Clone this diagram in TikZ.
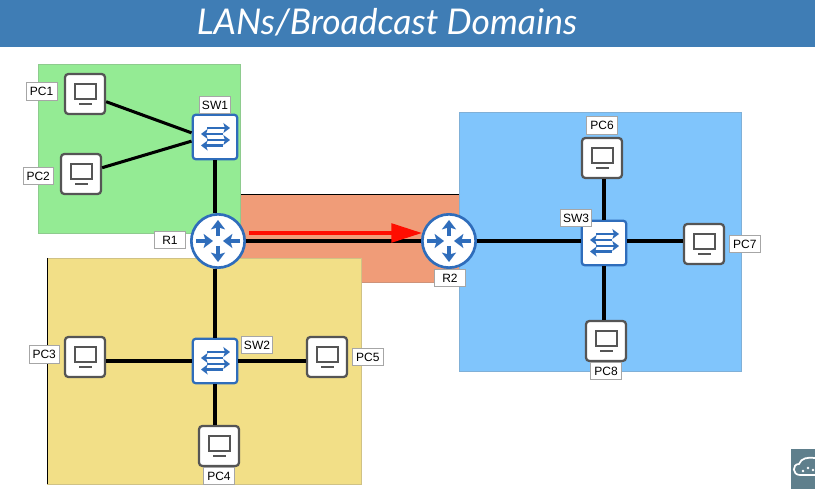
\documentclass[tikz,border=0pt]{standalone}
\usepackage{fontspec}
\setmainfont{Liberation Sans}
\newfontfamily\titlefont{Lato}
\usetikzlibrary{arrows.meta}
\usetikzlibrary{positioning}
\definecolor{barblue}{HTML}{3F7DB5}
\definecolor{iconblue}{HTML}{2F6DBB}
\definecolor{pcgrey}{HTML}{555555}
\definecolor{langreen}{HTML}{94EB94}
\definecolor{lanyellow}{HTML}{F2DF87}
\definecolor{lanorange}{HTML}{F09C78}
\definecolor{lanblue}{HTML}{80C5FC}
\definecolor{cornergrey}{HTML}{5F7F8C}
\tikzset{
	lan/.style = {draw=#1!70!gray, line width=0.6pt, fill=#1},
	link/.style = {line width=2.3pt, black},
	pcbox/.style = {draw=pcgrey, line width=1.7pt, fill=white, rounded corners=2.5pt, minimum size=30pt, inner sep=0pt},
	swbox/.style = {draw=iconblue, line width=1.7pt, fill=white, rounded corners=2.5pt, minimum size=33.5pt, inner sep=0pt},
	routernode/.style = {circle, draw=iconblue, line width=2pt, fill=white, minimum size=40pt, inner sep=0pt},
	tag/.style = {draw=black!35, line width=0.5pt, fill=white, inner sep=0pt, minimum width=23pt, minimum height=13pt, font=\fontsize{9}{9}\selectfont},
	swarrow/.style = {draw=iconblue, line width=1.9pt, -{Stealth[length=5pt,width=7.5pt,inset=1.2pt]}},
	rtarrow/.style = {draw=iconblue, line width=2.4pt, -{Stealth[length=7pt,width=10.5pt,inset=1.5pt]}},
	monitor/.pic = {
		\draw[pcgrey, line width=0.9pt] (-10,-10) rectangle (11,5);
		\draw[pcgrey, line width=0.9pt] (-6,10) -- (7,10);
	},
	swicon/.pic = {
		\draw[swarrow] (-8,-9) -- (15,-9);
		\draw[swarrow] (8,-3) -- (-14,-3);
		\draw[swarrow] (-8,3) -- (15,3);
		\draw[swarrow] (8,8.5) -- (-14,8.5);
	},
	routericon/.pic = {
		\draw[rtarrow] (0,-5) -- (0,-21);
		\draw[rtarrow] (0,5) -- (0,21);
		\draw[rtarrow] (-22,0) -- (-5,0);
		\draw[rtarrow] (22,0) -- (5,0);
	}
}

\begin{document}
\begin{tikzpicture}[x=0.75pt,y=-0.75pt]
	\useasboundingbox (0,0) rectangle (815,495);
	% title bar
	\fill[barblue] (0,0) rectangle (815,47);
	\node[text=white, font=\titlefont\itshape\fontsize{26.6}{27}\selectfont] (title) at (387,22) {LANs/Broadcast Domains};

	% broadcast domains
	\draw[lan=lanorange] (240,194) rectangle (459,282);
	\draw[black, line width=0.7pt] (240,194) -- (459,194);
	\draw[lan=lanyellow] (47,258) rectangle (361,484);
	\draw[black, line width=0.7pt] (47,258) -- (47,484);
	\draw[lan=lanblue] (459,112) rectangle (741,371);
	\draw[lan=langreen] (38,64) rectangle (240,233);

	% devices
	\node[pcbox] (PC1) at (85,94) {};
	\node[pcbox] (PC2) at (81,174) {};
	\node[pcbox] (PC3) at (85,357) {};
	\node[pcbox] (PC4) at (219,446) {};
	\node[pcbox] (PC5) at (327,357) {};
	\node[pcbox] (PC6) at (602,158) {};
	\node[pcbox] (PC7) at (704,244) {};
	\node[pcbox] (PC8) at (606,341) {};
	\node[swbox] (SW1) at (215,137) {};
	\node[swbox] (SW2) at (215,361) {};
	\node[swbox] (SW3) at (604,243) {};
	\node[routernode] (R1) at (218,241) {};
	\node[routernode] (R2) at (449,241) {};

	% links
	\draw[link] (PC1) -- (SW1.170);
	\draw[link] (PC2) -- (SW1.190);
	\draw[link] (SW1.south) -- (SW1.south |- R1.north);
	\draw[link] (SW2.north |- R1.south) -- (SW2.north);
	\draw[link] (PC3.east |- SW2) -- (SW2);
	\draw[link] (SW2) -- (PC5.west |- SW2);
	\draw[link] (SW2.south) -- (SW2.south |- PC4.north);
	\draw[link] (R1) -- (R2);
	\draw[link] (R2) -- (SW3.west |- R2);
	\draw[link] (SW3.north) -- (SW3.north |- PC6.south);
	\draw[link] (SW3.east |- R2) -- (PC7.west |- R2);
	\draw[link] (SW3.south) -- (SW3.south |- PC8.north);

	% icons
	\foreach \pcname in {PC1,PC2,PC3,PC4,PC5,PC6,PC7,PC8}
		\pic at (\pcname) {monitor};
	\foreach \swname in {SW1,SW2,SW3}
		\pic at (\swname) {swicon};
	\pic at (R1) {routericon};
	\pic at (R2) {routericon};

	% red arrow
	\coordinate (start) at (249,233);
	\coordinate (stop) at (422,233);
	\draw[red!90!orange, line width=2.7pt, -{Triangle[length=23pt,width=14pt]}] (start) -- (stop);

	% labels
	\node[tag, left=5pt of PC1, yshift=2pt] (lPC1) {PC1};
	\node[tag, left=4.5pt of PC2, yshift=-1.5pt] (lPC2) {PC2};
	\node[tag, left=3pt of PC3, yshift=2pt] (lPC3) {PC3};
	\node[tag, below=0pt of PC4] (lPC4) {PC4};
	\node[tag, right=3pt of PC5] (lPC5) {PC5};
	\node[tag, above=2pt of PC6] (lPC6) {PC6};
	\node[tag, right=3pt of PC7] (lPC7) {PC7};
	\node[tag, below=0pt of PC8] (lPC8) {PC8};
	\node[tag] (lSW1) at (215,105) {SW1};
	\node[tag] (lSW2) at (257,345) {SW2};
	\node[tag] (lSW3) at (576,218) {SW3};
	\node[tag] (lR1) at (170,240) {R1};
	\node[tag] (lR2) at (450,278) {R2};

	% corner badge
	\fill[cornergrey] (791,449) rectangle (815,489);
	\draw[white, line width=1.3pt, line cap=round] (815,475) -- (800,475) .. controls (792,475) and (792,464) .. (799,464) .. controls (801,458) and (808,457) .. (815,458);
	\fill[white] (803,471) circle (1.3) (808,468) circle (1.3) (813,470) circle (1.3);
\end{tikzpicture}
\end{document}
